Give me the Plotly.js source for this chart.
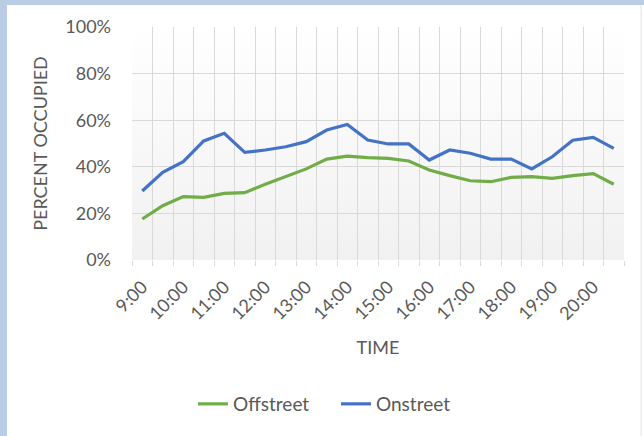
<!DOCTYPE html>
<html>
<head>
<meta charset="utf-8">
<script src="https://cdn.plot.ly/plotly-3.0.1.min.js"></script>
<style>
  html, body { margin: 0; padding: 0; background: #ffffff; }
  #chart { width: 644px; height: 436px; }
</style>
</head>
<body>
<div id="chart"></div>
<script>
// ---- data ----
const times = ["9:00","9:30","10:00","10:30","11:00","11:30","12:00","12:30",
               "13:00","13:30","14:00","14:30","15:00","15:30","16:00","16:30",
               "17:00","17:30","18:00","18:30","19:00","19:30","20:00","20:30"];
const tickLabels = ["9:00","","10:00","","11:00","","12:00","",
                    "13:00","","14:00","","15:00","","16:00","",
                    "17:00","","18:00","","19:00","","20:00",""];
const offstreet = [17.6, 23.3, 27.2, 26.9, 28.6, 28.9, 32.5, 35.8,
                   39.1, 43.3, 44.6, 43.9, 43.6, 42.5, 38.6, 36.2,
                   34.0, 33.6, 35.5, 35.8, 35.0, 36.2, 37.1, 32.5];
const onstreet  = [29.6, 37.6, 42.2, 51.1, 54.4, 46.2, 47.2, 48.6,
                   50.8, 55.8, 58.2, 51.5, 49.8, 49.8, 42.9, 47.2,
                   45.8, 43.3, 43.3, 39.1, 44.3, 51.4, 52.6, 47.9];
const seriesNames = ["Offstreet", "Onstreet"];
const yTicks = [0, 20, 40, 60, 80, 100];

// ---- layout helpers ----
const W = 644, H = 436;
const L = 132, R = 624, T = 27, B = 260;
const px = x => (x - L) / (R - L);
const py = y => (B - y) / (B - T);

const textColor = "#595959";
const gridColor = "#d9d9d9";
const font = "Lato, 'Open Sans', sans-serif";
const fs = 18;

const gradSvg = "<svg xmlns='http://www.w3.org/2000/svg' width='100' height='100' preserveAspectRatio='none'>" +
  "<defs><linearGradient id='g' x1='0' y1='0' x2='0' y2='1'>" +
  "<stop offset='0' stop-color='#ffffff'/><stop offset='1' stop-color='#f1f1f1'/></linearGradient></defs>" +
  "<rect width='100' height='100' fill='url(#g)'/></svg>";
const gradUri = "data:image/svg+xml;charset=utf-8," + encodeURIComponent(gradSvg);

const traces = [
  { x: times, y: offstreet, name: seriesNames[0], type: "scatter", mode: "lines",
    line: { color: "#70ad47", width: 3.2 } },
  { x: times, y: onstreet, name: seriesNames[1], type: "scatter", mode: "lines",
    line: { color: "#4472c4", width: 3.2 } }
];

const layout = {
  width: W, height: H,
  margin: { l: L, r: W - R, t: T, b: H - B, pad: 0 },
  paper_bgcolor: "#ffffff",
  plot_bgcolor: "rgba(0,0,0,0)",
  font: { family: font, size: fs, color: textColor },
  showlegend: true,
  legend: {
    orientation: "h", x: px(193), xanchor: "left", y: py(404), yanchor: "middle",
    font: { family: font, size: 19, color: textColor },
    bgcolor: "rgba(0,0,0,0)", traceorder: "normal",
    entrywidth: 98, entrywidthmode: "pixels"
  },
  xaxis: {
    type: "category",
    range: [-0.5, times.length - 0.5],
    tickvals: times, ticktext: tickLabels,
    tickson: "boundaries",
    ticks: "outside", ticklen: 5, tickcolor: gridColor, tickwidth: 1,
    tickangle: -45,
    ticklabelstandoff: 12,
    showgrid: true, gridcolor: gridColor, gridwidth: 1,
    showline: false, zeroline: false,
    tickfont: { family: font, size: fs, color: textColor },
    title: { text: "TIME", standoff: 18, font: { family: font, size: fs, color: textColor } },
    automargin: false, fixedrange: true
  },
  yaxis: {
    range: [0, 100], tickvals: yTicks, ticktext: yTicks.map(v => v + "%"),
    ticks: "", showgrid: true, gridcolor: gridColor, gridwidth: 1,
    zeroline: false, showline: false,
    ticklabelstandoff: 20,
    tickfont: { family: font, size: fs, color: textColor },
    title: { text: "PERCENT OCCUPIED", standoff: 12, font: { family: font, size: fs, color: textColor } },
    automargin: false, fixedrange: true
  },
  images: [{
    source: gradUri, xref: "paper", yref: "paper",
    x: 0, y: 1, sizex: 1, sizey: 1, xanchor: "left", yanchor: "top",
    sizing: "stretch", layer: "below"
  }],
  shapes: [
    { type: "rect", xref: "paper", yref: "paper", layer: "below",
      x0: px(0), x1: px(7), y0: py(H), y1: py(0),
      fillcolor: "#b9cde5", line: { width: 0 } },
    { type: "rect", xref: "paper", yref: "paper", layer: "below",
      x0: px(0), x1: px(W), y0: py(5), y1: py(0),
      fillcolor: "#b9cde5", line: { width: 0 } },
    { type: "line", xref: "paper", yref: "paper", layer: "below",
      x0: px(641), x1: px(641), y0: py(H), y1: py(5),
      line: { color: "#e4e4e4", width: 1 } }
  ]
};

Plotly.newPlot("chart", traces, layout, { staticPlot: true, displayModeBar: false });
</script>
</body>
</html>
